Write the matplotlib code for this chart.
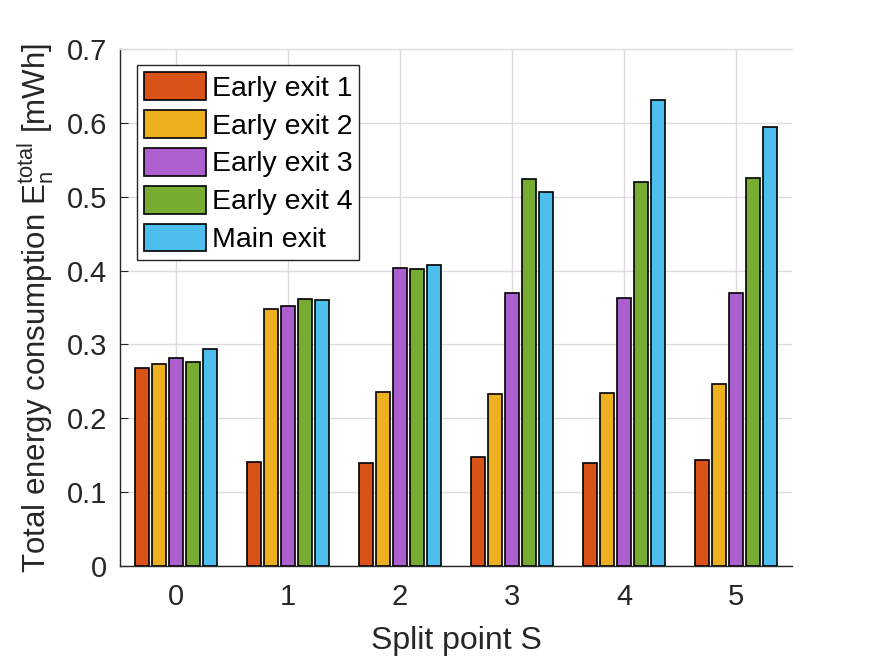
import matplotlib
matplotlib.use("Agg")
import matplotlib.pyplot as plt
import numpy as np

split_points = [0, 1, 2, 3, 4, 5]
series_names = ["Early exit 1", "Early exit 2", "Early exit 3", "Early exit 4", "Main exit"]
early_exit_1 = [0.268, 0.141, 0.139, 0.147, 0.139, 0.144]
early_exit_2 = [0.2735, 0.348, 0.236, 0.233, 0.234, 0.246]
early_exit_3 = [0.281, 0.352, 0.404, 0.369, 0.363, 0.369]
early_exit_4 = [0.276, 0.361, 0.402, 0.524, 0.520, 0.526]
main_exit = [0.294, 0.360, 0.408, 0.507, 0.631, 0.595]
yticks = [0, 0.1, 0.2, 0.3, 0.4, 0.5, 0.6, 0.7]

series = [early_exit_1, early_exit_2, early_exit_3, early_exit_4, main_exit]
colors = ["#D95319", "#EDB120", "#AE5FCF", "#77AC30", "#4DBEEE"]

plt.rcParams['font.family'] = ['Liberation Sans', 'DejaVu Sans']
plt.rcParams['mathtext.fontset'] = 'custom'
plt.rcParams['mathtext.rm'] = 'Liberation Sans'
plt.rcParams['mathtext.it'] = 'Liberation Sans'

fig = plt.figure(figsize=(8.75, 6.56), dpi=100)
ax = fig.add_axes([120/875, (656-566)/656, 672/875, 517/656])

x = np.array(split_points, dtype=float)
spacing = 0.154
width = 0.125
for i, (vals, c, name) in enumerate(zip(series, colors, series_names)):
    ax.bar(x + (i - 2) * spacing, vals, width=width, color=c, edgecolor='black',
           linewidth=1.2, label=name, zorder=3)

ax.set_xlim(-0.5, 5.5)
ax.set_ylim(0, 0.7)
ax.set_xticks(split_points)
ax.set_xticklabels([str(s) for s in split_points])
ax.set_yticks(yticks)
ax.set_yticklabels(["0" if t == 0 else f"{t:g}" for t in yticks])
ax.grid(True, color='#dcdcdc', linewidth=1.0, zorder=0)
ax.set_axisbelow(True)

for s in ['left', 'bottom']:
    ax.spines[s].set_color('#262626')
    ax.spines[s].set_linewidth(1.0)
ax.spines['top'].set_color('#dcdcdc')
ax.spines['top'].set_linewidth(1.0)
ax.spines['right'].set_visible(False)

ax.tick_params(axis='both', direction='in', labelsize=21, colors='#262626', length=6,
               top=False, right=False)
ax.tick_params(axis='y', pad=9)
ax.tick_params(axis='x', length=0, pad=12)

ax.set_xlabel("Split point S", fontsize=23, color='#262626', labelpad=11)
ax.set_ylabel(r"Total energy consumption $\mathregular{E_n^{total}}$ [mWh]", fontsize=22.5,
              color='#262626', labelpad=8)

leg = ax.legend(loc='upper left', bbox_to_anchor=(0.025, 0.969), borderaxespad=0,
                fontsize=20.5, handlelength=2.18, handleheight=1.13, labelspacing=0.29,
                handletextpad=0.2, borderpad=0.25, fancybox=False, framealpha=1,
                edgecolor='#262626')
leg.get_frame().set_linewidth(1.0)
for t in leg.get_texts():
    t.set_color('black')

fig.savefig("out.png", dpi=100)
